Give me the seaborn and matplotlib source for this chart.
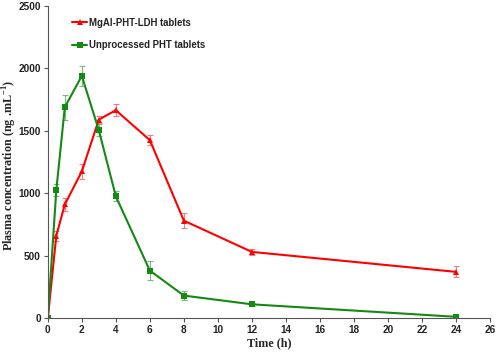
import matplotlib
matplotlib.use("Agg")
import matplotlib.pyplot as plt
import seaborn as sns
import pandas as pd
import numpy as np

time = [0, 0.5, 1, 2, 3, 4, 6, 8, 12, 24]
ldh = [0, 660, 910, 1175, 1590, 1665, 1425, 780, 530, 370]
ldh_err = [0, 40, 50, 60, 30, 50, 40, 60, 25, 45]
pht = [0, 1025, 1690, 1940, 1505, 975, 380, 180, 110, 10]
pht_err = [0, 50, 100, 80, 50, 40, 75, 35, 10, 15]
series_names = ["MgAl-PHT-LDH tablets", "Unprocessed PHT tablets"]

sns.set_style("white")
plt.rcParams['font.family'] = ['Liberation Sans', 'DejaVu Sans']
plt.rcParams['mathtext.fontset'] = 'custom'
plt.rcParams['mathtext.bf'] = 'Liberation Serif:bold'
plt.rcParams['mathtext.rm'] = 'Liberation Serif:bold'

df = pd.DataFrame({
    "time": time * 2,
    "conc": ldh + pht,
    "err": ldh_err + pht_err,
    "series": [series_names[0]] * len(time) + [series_names[1]] * len(time),
})

fig = plt.figure(figsize=(4.98, 3.53), dpi=100)
ax = fig.add_axes([0.096, 0.099, 0.888, 0.884])

colors = {series_names[0]: "#ff0000", series_names[1]: "#138a13"}
markers = {series_names[0]: "^", series_names[1]: "s"}
ecolors = {series_names[0]: "#f08080", series_names[1]: "#7fb87f"}

sns.lineplot(data=df, x="time", y="conc", hue="series", style="series",
             palette=colors, markers=markers, dashes=False, markersize=4.5,
             markeredgewidth=0, linewidth=1.5, ax=ax, legend=True)
for name in series_names:
    sub = df[df.series == name]
    ax.errorbar(sub.time, sub.conc, yerr=sub.err, fmt="none", ecolor=ecolors[name],
                elinewidth=0.8, capsize=2, capthick=0.8, zorder=1)

ax.set_xlim(0, 26)
ax.set_ylim(0, 2500)
ax.set_xticks(range(0, 27, 2))
ax.set_yticks(range(0, 2501, 500))
for lab in ax.get_xticklabels() + ax.get_yticklabels():
    lab.set_fontweight("bold")
    lab.set_fontsize(7.2)
    lab.set_color("#222222")
ax.tick_params(axis="both", direction="out", length=3, width=0.8, pad=2, color="#555555")
ax.tick_params(axis="both", which="both", bottom=True, left=True)
for s in ["top", "right"]:
    ax.spines[s].set_visible(False)
for s in ["left", "bottom"]:
    ax.spines[s].set_color("#555555")
    ax.spines[s].set_linewidth(0.8)

ax.set_xlabel("Time (h)", fontfamily="Liberation Serif", fontweight="bold", fontsize=8.7, labelpad=2)
ax.set_ylabel("Plasma concentration (ng .mL$^{\\mathbf{-1}}$)", fontfamily="Liberation Serif",
              fontweight="bold", fontsize=8.7)
ax.yaxis.set_label_coords(-0.066, 0.49)

leg = ax.legend(loc="upper left", bbox_to_anchor=(0.035, 0.99), frameon=False,
                fontsize=6.9, handlelength=1.6, handletextpad=0.2, labelspacing=1.3)
for t in leg.get_texts():
    t.set_fontweight("bold")
    t.set_color("#222222")

fig.savefig("out.png", dpi=100)
